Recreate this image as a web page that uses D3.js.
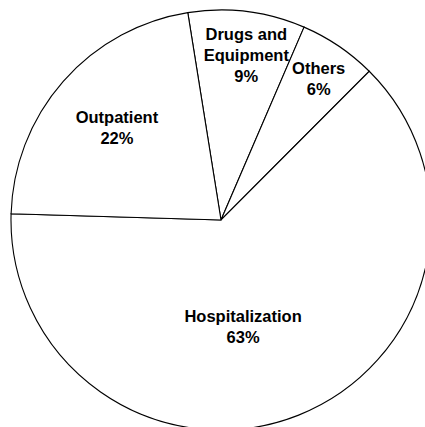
<!DOCTYPE html>
<html>
<head>
<meta charset="utf-8">
<script src="https://cdn.jsdelivr.net/npm/d3@7"></script>
<style>
  body { margin: 0; background: #fff; }
  .lbl { font-family: "Liberation Sans", Arial, sans-serif; font-weight: bold; font-size: 16.5px; fill: #000; }
</style>
</head>
<body>
<div class="chart"></div>
<script>
var svgWidth = 425;
var svgHeight = 427;

// data
var categories = ["Drugs and\nEquipment", "Others", "Hospitalization", "Outpatient"];
var shares = [9, 6, 63, 22];

var cx = 221, cy = 220, radius = 210;
var startDeg = -9.1;
// label placement per slice: [radius, angle offset in degrees from slice middle]
var labelPos = [[167, 1.6], [172, 0.5], [109, 10], [139, 0.2]];

var svg = d3.select(".chart")
    .append("svg")
    .attr("width", svgWidth)
    .attr("height", svgHeight);

var chart = svg.append("g")
    .attr("transform", "translate(" + cx + "," + cy + ")");

var pie = d3.pie()
    .sort(null)
    .value(function(d) { return d; })
    .startAngle(startDeg * Math.PI / 180)
    .endAngle(startDeg * Math.PI / 180 + 2 * Math.PI);

var arc = d3.arc().innerRadius(0).outerRadius(radius);

var arcs = pie(shares);

chart.selectAll("path")
    .data(arcs)
    .enter().append("path")
    .attr("d", arc)
    .attr("fill", "#fff")
    .attr("stroke", "#000")
    .attr("stroke-width", 1.1);

var lineH = 21;
arcs.forEach(function(a, i) {
    var mid = (a.startAngle + a.endAngle) / 2 + labelPos[i][1] * Math.PI / 180;
    var r = labelPos[i][0];
    var x = Math.sin(mid) * r;
    var y = -Math.cos(mid) * r;
    var lines = categories[i].split("\n").concat([shares[i] + "%"]);
    var y0 = y - (lines.length - 1) * lineH / 2 + 6;
    var t = chart.append("text")
        .attr("class", "lbl")
        .attr("text-anchor", "middle");
    lines.forEach(function(s, j) {
        t.append("tspan")
            .attr("x", x)
            .attr("y", y0 + j * lineH)
            .text(s);
    });
});
</script>
</body>
</html>
